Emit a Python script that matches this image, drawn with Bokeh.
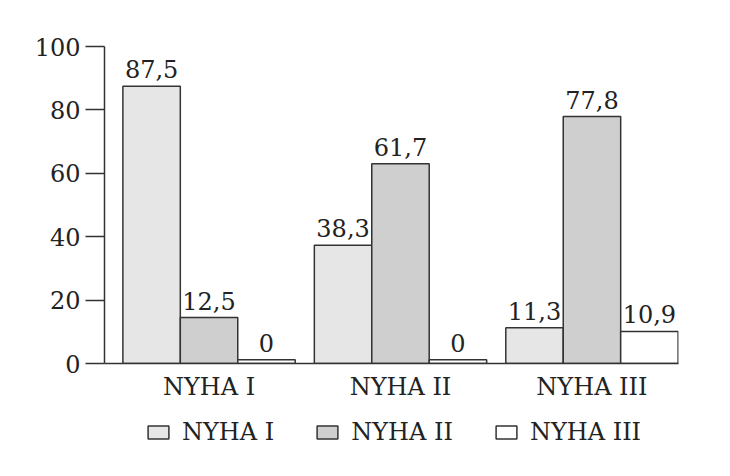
from bokeh.plotting import figure
from bokeh.layouts import column
from bokeh.models import Range1d, FixedTicker, Legend, LegendItem, ColumnDataSource
from bokeh.transform import dodge
from bokeh.core.properties import value
from bokeh.embed import file_html
from bokeh.resources import INLINE

groups = ["NYHA I", "NYHA II", "NYHA III"]
series = ["NYHA I", "NYHA II", "NYHA III"]
# bar heights as drawn in the picture
heights_I = [87.5, 37.3, 11.3]
heights_II = [14.5, 63.0, 77.9]
heights_III = [1.2, 1.2, 10.1]
# printed value labels
labels_I = ["87,5", "38,3", "11,3"]
labels_II = ["12,5", "61,7", "77,8"]
labels_III = ["0", "0", "10,9"]
y_ticks = [0, 20, 40, 60, 80, 100]

FONT = "DejaVu Serif"
FS = "24px"
TXT = "#222222"
LINE = "#333333"
colors = ["#e6e6e6", "#cfcfcf", "#ffffff"]

src = ColumnDataSource(dict(
    x=list(range(len(groups))),
    h1=heights_I, h2=heights_II, h3=heights_III,
    l1=labels_I, l2=labels_II, l3=labels_III,
))

p = figure(frame_width=574, frame_height=317,
           x_range=Range1d(-0.546, 2.452), y_range=Range1d(0, 100),
           output_backend="svg", toolbar_location=None,
           min_border_left=104, min_border_right=44, min_border_top=46,
           min_border_bottom=40)
p.outline_line_color = None
p.xgrid.visible = False
p.ygrid.visible = False
p.background_fill_color = "white"
p.border_fill_color = "white"

bw = 0.3
offs = [-bw, 0.0, bw]
for hk, lk, off, c in zip(["h1", "h2", "h3"], ["l1", "l2", "l3"], offs, colors):
    p.vbar(x=dodge("x", off), top=hk, width=bw, source=src,
           fill_color=c, line_color=LINE, line_width=1.5)
    p.text(x=dodge("x", off), y=hk, text=lk, source=src,
           text_align="center", text_baseline="alphabetic", y_offset=-17,
           text_font=value(FONT), text_font_size=FS, text_color=TXT)

# y axis
ya = p.yaxis[0]
ya.ticker = FixedTicker(ticks=y_ticks)
ya.major_tick_out = 19
ya.major_tick_in = 0
ya.minor_tick_out = 0
ya.minor_tick_in = 0
ya.major_label_standoff = 5
ya.axis_line_color = LINE
ya.axis_line_width = 1.5
ya.major_tick_line_color = LINE
ya.major_tick_line_width = 1.5
ya.major_label_text_font = FONT
ya.major_label_text_font_size = FS
ya.major_label_text_color = TXT

# x axis
xa = p.xaxis[0]
xa.ticker = FixedTicker(ticks=list(range(len(groups))))
xa.major_label_overrides = {i: g for i, g in enumerate(groups)}
xa.major_tick_out = 0
xa.major_tick_in = 0
xa.minor_tick_out = 0
xa.minor_tick_in = 0
xa.major_label_standoff = 9
xa.axis_line_color = LINE
xa.axis_line_width = 1.5
xa.major_label_text_font = FONT
xa.major_label_text_font_size = FS
xa.major_label_text_color = TXT

# legend strip below the chart (its frame lines up with the chart's frame);
# its series renderers are degenerate (zero size, out of view) and only feed the legend
pl = figure(frame_width=574, height=60,
            x_range=Range1d(-0.546, 2.452), y_range=Range1d(500, 501),
            x_axis_type=None, y_axis_type=None,
            output_backend="svg", toolbar_location=None,
            min_border_left=104, min_border_right=44, min_border_top=0,
            min_border_bottom=0)
pl.outline_line_color = None
pl.xgrid.visible = False
pl.ygrid.visible = False
pl.border_fill_color = "white"
leg_rs = [pl.vbar(x=dodge("x", off), top=hk, bottom=hk, width=0, source=src,
                  fill_color=c, line_color=LINE, line_width=1.5)
          for hk, off, c in zip(["h1", "h2", "h3"], offs, colors)]

legend = Legend(items=[LegendItem(label=s, renderers=[r]) for s, r in zip(series, leg_rs)],
                orientation="horizontal", location=(41, 17),
                glyph_width=26, glyph_height=16, label_standoff=11,
                spacing=40, padding=5, margin=0,
                border_line_color=None, background_fill_alpha=0,
                label_text_font=FONT, label_text_font_size=FS,
                label_text_color=TXT)
pl.add_layout(legend, "center")

layout = column(p, pl, spacing=0)
open("out.html", "w").write(file_html(layout, INLINE))
